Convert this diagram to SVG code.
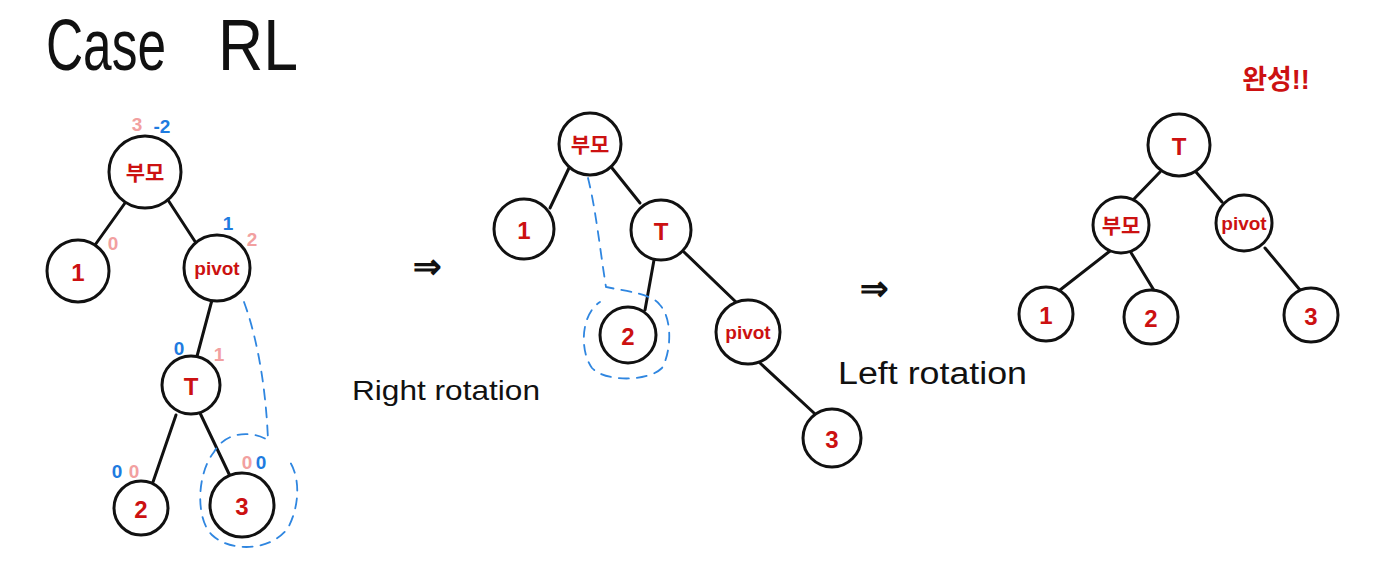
<svg xmlns="http://www.w3.org/2000/svg" width="1387" height="569" viewBox="0 0 1387 569">
<style>
.n{fill:#fff;stroke:#111;stroke-width:3}
.e{stroke:#111;stroke-width:3;stroke-linecap:round;fill:none}
.lbl{fill:#cc1111;font-family:"Liberation Sans","Noto Sans CJK KR",sans-serif;text-anchor:middle;dominant-baseline:central}
.kr{font-size:21px;font-weight:bold}
.pv{font-size:19px;font-weight:bold}
.dg{font-size:24px;font-weight:bold}
.pk{fill:#f2a0a0;font-family:"Liberation Sans",sans-serif;font-size:19px;font-weight:bold;text-anchor:middle}
.bl{fill:#1e7be0;font-family:"Liberation Sans",sans-serif;font-size:19px;font-weight:bold;text-anchor:middle}
.dash{fill:none;stroke:#2f86e0;stroke-width:1.8;stroke-dasharray:10 8;stroke-linecap:round}
.bk{fill:#111;font-family:"Liberation Sans",sans-serif}
</style>
<rect width="1387" height="569" fill="#fff"/>
<g id="title">
<text class="bk" x="46" y="70" font-size="72" textLength="120" lengthAdjust="spacingAndGlyphs">Case</text>
<text class="bk" x="218" y="70" font-size="72" textLength="80" lengthAdjust="spacingAndGlyphs">RL</text>
</g>
<g id="connectors">
<line class="e" x1="125" y1="203" x2="95" y2="245"/>
<line class="e" x1="168" y1="200" x2="196" y2="243"/>
<line class="e" x1="212" y1="300" x2="196" y2="360"/>
<line class="e" x1="176" y1="415" x2="153" y2="482"/>
<line class="e" x1="200" y1="413" x2="230" y2="476"/>
<line class="e" x1="569" y1="168" x2="550" y2="208"/>
<line class="e" x1="612" y1="168" x2="640" y2="203"/>
<line class="e" x1="654" y1="260" x2="645" y2="310"/>
<line class="e" x1="684" y1="252" x2="737" y2="303"/>
<line class="e" x1="760" y1="363" x2="814" y2="413"/>
<line class="e" x1="1160" y1="172" x2="1133" y2="200"/>
<line class="e" x1="1196" y1="172" x2="1222" y2="202"/>
<line class="e" x1="1110" y1="251" x2="1060" y2="290"/>
<line class="e" x1="1130" y1="251" x2="1155" y2="292"/>
<line class="e" x1="1265" y1="248" x2="1300" y2="290"/>
</g>
<g id="dashes">
<path class="dash" d="M244 302 C258 340 266 390 268 440 C250 430 225 432 214 452 C196 475 196 520 212 535 C230 552 270 552 288 528 C300 505 300 478 290 462"/>
<path class="dash" d="M588 178 C596 210 600 250 606 287 C630 292 652 294 660 305 C672 318 672 350 662 368 C648 382 605 382 592 368 C580 352 580 315 600 302"/>
</g>
<g id="n-parent-1"><circle class="n" cx="145" cy="172" r="36"/><text class="lbl kr" x="145" y="172">부모</text></g>
<g id="n-one-1"><circle class="n" cx="78" cy="271" r="31"/><text class="lbl dg" x="78" y="272">1</text></g>
<g id="n-pivot-1"><circle class="n" cx="217" cy="268" r="33"/><text class="lbl pv" x="217" y="268">pivot</text></g>
<g id="n-T-1"><circle class="n" cx="191" cy="385" r="29"/><text class="lbl dg" x="191" y="386">T</text></g>
<g id="n-two-1"><circle class="n" cx="141" cy="508" r="27"/><text class="lbl dg" x="141" y="509" font-size="20">2</text></g>
<g id="n-three-1"><circle class="n" cx="242" cy="505" r="32"/><text class="lbl dg" x="242" y="506">3</text></g>
<g id="balance">
<text class="pk" x="137" y="131">3</text>
<text class="bl" x="162" y="133">-2</text>
<text class="pk" x="113" y="250">0</text>
<text class="bl" x="228" y="230">1</text>
<text class="pk" x="252" y="246">2</text>
<text class="bl" x="179" y="355">0</text>
<text class="pk" x="219" y="361">1</text>
<text class="bl" x="117" y="478">0</text>
<text class="pk" x="134" y="478">0</text>
<text class="pk" x="247" y="469">0</text>
<text class="bl" x="261" y="469">0</text>
</g>
<g id="arrow-1"><text class="bk" x="427" y="278" font-size="34" font-weight="bold" text-anchor="middle">⇒</text></g>
<g id="label-right"><text class="bk" x="352" y="400" font-size="28" textLength="188" lengthAdjust="spacingAndGlyphs">Right rotation</text></g>
<g id="n-parent-2"><circle class="n" cx="590" cy="144" r="31"/><text class="lbl kr" x="590" y="144">부모</text></g>
<g id="n-one-2"><circle class="n" cx="524" cy="229" r="30"/><text class="lbl dg" x="524" y="230">1</text></g>
<g id="n-T-2"><circle class="n" cx="661" cy="230" r="30"/><text class="lbl dg" x="661" y="231">T</text></g>
<g id="n-two-2"><circle class="n" cx="628" cy="335" r="28"/><text class="lbl dg" x="628" y="336">2</text></g>
<g id="n-pivot-2"><circle class="n" cx="748" cy="332" r="32"/><text class="lbl pv" x="748" y="332">pivot</text></g>
<g id="n-three-2"><circle class="n" cx="832" cy="438" r="29"/><text class="lbl dg" x="832" y="439">3</text></g>
<g id="arrow-2"><text class="bk" x="874" y="300" font-size="34" font-weight="bold" text-anchor="middle">⇒</text></g>
<g id="label-left"><text class="bk" x="838" y="384" font-size="31" textLength="189" lengthAdjust="spacingAndGlyphs">Left rotation</text></g>
<g id="done"><text class="lbl" x="1276" y="80" font-size="27" style="font-weight:bold">완성!!</text></g>
<g id="n-T-3"><circle class="n" cx="1179" cy="145" r="31"/><text class="lbl dg" x="1179" y="146">T</text></g>
<g id="n-parent-3"><circle class="n" cx="1121" cy="225" r="28"/><text class="lbl kr" x="1121" y="225">부모</text></g>
<g id="n-pivot-3"><circle class="n" cx="1244" cy="223" r="28"/><text class="lbl pv" x="1244" y="223">pivot</text></g>
<g id="n-one-3"><circle class="n" cx="1046" cy="314" r="27"/><text class="lbl dg" x="1046" y="315">1</text></g>
<g id="n-two-3"><circle class="n" cx="1151" cy="317" r="27"/><text class="lbl dg" x="1151" y="318">2</text></g>
<g id="n-three-3"><circle class="n" cx="1311" cy="315" r="27"/><text class="lbl dg" x="1311" y="316">3</text></g>
</svg>
